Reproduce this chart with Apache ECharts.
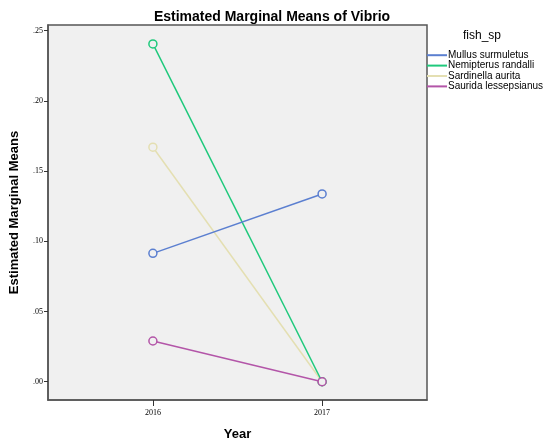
<!DOCTYPE html>
<html>
<head>
<meta charset="utf-8">
<script src="https://cdn.jsdelivr.net/npm/echarts@6/dist/echarts.min.js"></script>
<style>
  html, body { margin: 0; padding: 0; background: #fff; }
  #chart-container { width: 550px; height: 447px; }
</style>
</head>
<body>
<div id="chart-container"></div>
<script>
const years = [2016, 2017];
const speciesNames = ['Mullus surmuletus', 'Nemipterus randalli', 'Sardinella aurita', 'Saurida lessepsianus'];
const mullus = [0.0914, 0.1337];
const nemipterus = [0.2405, 0.0];
const sardinella = [0.167, 0.0];
const saurida = [0.029, 0.0];
const yTicks = [0, 0.05, 0.10, 0.15, 0.20, 0.25];

const seriesValues = [mullus, nemipterus, sardinella, saurida];
const colors = ['#5b7fd0', '#1fc97c', '#e4dfb2', '#b355a8'];
// stacking order: beige lowest, magenta on top (as at the 2017 point)
const zOrder = [4, 3, 2, 5];

const dom = document.getElementById('chart-container');
const myChart = echarts.init(dom, null, { renderer: 'canvas' });

const tickLabel = { fontFamily: 'Liberation Serif', fontSize: 8, color: '#000' };
const axisName = { fontFamily: 'Liberation Sans', fontWeight: 'bold', fontSize: 13, color: '#000' };

const option = {
  animation: false,
  title: [
    {
      text: 'Estimated Marginal Means of Vibrio',
      left: 267,
      textAlign: 'center',
      top: 5,
      textStyle: { fontFamily: 'Liberation Sans', fontWeight: 'bold', fontSize: 14, color: '#000' },
    },
    {
      text: 'fish_sp',
      left: 477,
      textAlign: 'center',
      top: 25,
      textStyle: { fontFamily: 'Liberation Sans', fontWeight: 'normal', fontSize: 12, color: '#000' },
    },
  ],
  legend: {
    orient: 'vertical',
    left: 427,
    top: 50,
    itemWidth: 20,
    itemHeight: 2,
    itemGap: 0,
    icon: 'rect',
    padding: 0,
    textStyle: { fontFamily: 'Liberation Sans', fontSize: 10, color: '#000', padding: [0, 0, 0, -4], lineHeight: 10.4 },
    data: speciesNames.map((name, i) => ({ name, itemStyle: { color: colors[i], borderWidth: 0 } })),
  },
  grid: {
    left: 47,
    right: 123,
    top: 25,
    bottom: 47,
    show: true,
    backgroundColor: '#f0f0f0',
    borderColor: '#555',
    borderWidth: 1.5,
  },
  xAxis: {
    type: 'value',
    min: 2015.38,
    max: 2017.62,
    name: 'Year',
    nameLocation: 'middle',
    nameGap: 28,
    nameTextStyle: axisName,
    splitLine: { show: false },
    axisLine: { onZero: false, lineStyle: { color: '#555', width: 1.5 } },
    axisTick: { customValues: years, length: 6, lineStyle: { color: '#333' } },
    axisLabel: { customValues: years, margin: 9, ...tickLabel, formatter: (v) => String(v) },
  },
  yAxis: {
    type: 'value',
    min: -0.013,
    max: 0.254,
    name: 'Estimated Marginal Means',
    nameLocation: 'middle',
    nameGap: 27,
    nameTextStyle: axisName,
    splitLine: { show: false },
    axisLine: { onZero: false, lineStyle: { color: '#555', width: 1.5 } },
    axisTick: { customValues: yTicks, length: 4, lineStyle: { color: '#333' } },
    axisLabel: {
      customValues: yTicks,
      margin: 5,
      ...tickLabel,
      formatter: (v) => v.toFixed(2).replace(/^0/, ''),
    },
  },
  series: speciesNames.map((name, i) => ({
    name,
    type: 'line',
    data: years.map((y, j) => [y, seriesValues[i][j]]),
    symbol: 'circle',
    symbolSize: 8,
    lineStyle: { color: colors[i], width: 1.5 },
    itemStyle: { color: '#f0f0f0', borderColor: colors[i], borderWidth: 1.5 },
    z: zOrder[i],
  })),
};

myChart.setOption(option);
window.addEventListener('resize', myChart.resize);
</script>
</body>
</html>
